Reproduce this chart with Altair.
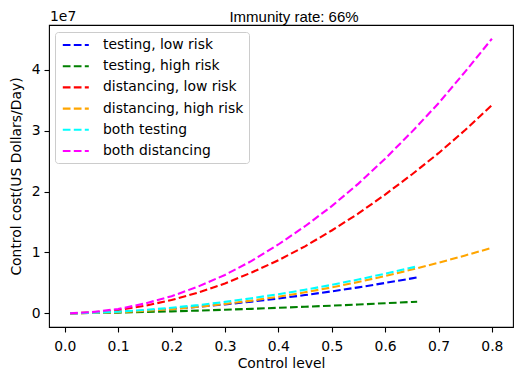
import altair as alt
import pandas as pd

# x grids (control level)
x_testing = [0.01, 0.05, 0.10, 0.15, 0.20, 0.25, 0.30, 0.35, 0.40, 0.45, 0.50, 0.55, 0.60, 0.65, 0.66]
x_distancing = [0.01, 0.05, 0.10, 0.15, 0.20, 0.25, 0.30, 0.35, 0.40, 0.45, 0.50, 0.55, 0.60, 0.65, 0.70, 0.75, 0.80]

# control cost in units of 1e7 US Dollars/Day
testing_low = [0.0004, 0.006, 0.021, 0.043, 0.071, 0.106, 0.146, 0.192, 0.243, 0.299, 0.360, 0.426, 0.498, 0.573, 0.59]
testing_high = [0.0004, 0.004, 0.011, 0.021, 0.032, 0.044, 0.058, 0.073, 0.090, 0.107, 0.125, 0.144, 0.165, 0.186, 0.19]
both_testing = [0.0004, 0.007, 0.026, 0.055, 0.091, 0.134, 0.187, 0.247, 0.313, 0.386, 0.467, 0.555, 0.651, 0.750, 0.77]
distancing_low = [0.0005, 0.0135, 0.054, 0.122, 0.218, 0.34, 0.49, 0.67, 0.87, 1.10, 1.36, 1.64, 1.95, 2.28, 2.63, 3.01, 3.42]
distancing_high = [0.0002, 0.004, 0.017, 0.038, 0.068, 0.106, 0.153, 0.208, 0.272, 0.344, 0.425, 0.514, 0.612, 0.718, 0.83, 0.95, 1.075]
both_distancing = [0.0007, 0.018, 0.07, 0.16, 0.28, 0.44, 0.63, 0.86, 1.13, 1.43, 1.76, 2.13, 2.54, 2.98, 3.45, 3.97, 4.51]

series_names = ["testing, low risk", "testing, high risk", "distancing, low risk",
                "distancing, high risk", "both testing", "both distancing"]
series_colors = ["blue", "green", "red", "orange", "cyan", "magenta"]
x_ticks = [0.0, 0.1, 0.2, 0.3, 0.4, 0.5, 0.6, 0.7, 0.8]
y_ticks = [0, 1, 2, 3, 4]
title_text = "Immunity rate: 66%"
offset_label = "1e7"

rows = []
for name, xs, ys in [
    (series_names[0], x_testing, testing_low),
    (series_names[1], x_testing, testing_high),
    (series_names[2], x_distancing, distancing_low),
    (series_names[3], x_distancing, distancing_high),
    (series_names[4], x_testing, both_testing),
    (series_names[5], x_distancing, both_distancing),
]:
    for xv, yv in zip(xs, ys):
        rows.append({"series": name, "x": xv, "y": yv})
df = pd.DataFrame(rows)

FONT = "DejaVu Sans"
FS = 13.9

lines = alt.Chart(df).mark_line(strokeWidth=2.1, strokeDash=[7.7, 3.3]).encode(
    x=alt.X("x:Q", scale=alt.Scale(domain=[-0.0295, 0.8395], nice=False, zero=False),
            axis=alt.Axis(values=x_ticks, format=".1f", title="Control level",
                          titleY=40, titleBaseline="alphabetic")),
    y=alt.Y("y:Q", scale=alt.Scale(domain=[-0.2255, 4.736], nice=False, zero=False),
            axis=alt.Axis(values=y_ticks, format="d", title="Control cost(US Dollars/Day)",
                          titleX=-33, titleY=151, titleAngle=270, titleBaseline="middle",
                          titleAlign="center", labelPadding=4)),
    color=alt.Color("series:N",
                    scale=alt.Scale(domain=series_names, range=series_colors),
                    sort=series_names,
                    legend=alt.Legend(title=None, orient="none", legendX=6, legendY=7,
                                      symbolType="M-0.8,0H3.2", symbolSize=169,
                                      symbolStrokeWidth=2.1, symbolDash=[7.7, 3.3],
                                      labelFont=FONT, labelFontSize=FS, labelColor="black",
                                      labelOffset=27, rowPadding=6.2, padding=5,
                                      fillColor="rgba(255,255,255,0.8)", strokeColor="#cccccc",
                                      cornerRadius=3)),
    detail="series:N",
)

offset_text = alt.Chart(pd.DataFrame({"t": [offset_label]})).mark_text(
    align="left", baseline="alphabetic", font=FONT, fontSize=FS, color="black"
).encode(x=alt.value(1), y=alt.value(-4), text="t:N")

title_mark = alt.Chart(pd.DataFrame({"t": [title_text]})).mark_text(
    align="center", baseline="alphabetic", font="Liberation Sans",
    fontSize=15, color="black"
).encode(x=alt.value(245), y=alt.value(-3), text="t:N")

chart = alt.layer(lines, offset_text, title_mark).properties(
    width=464, height=302,
    autosize=alt.AutoSizeParams(type="none"),
    padding={"left": 41, "top": 17, "right": 2, "bottom": 45},
    background="white",
).configure_view(stroke="black", strokeWidth=1.1).configure_axis(
    grid=False, domain=False, tickColor="black", tickSize=5, tickWidth=1.1,
    labelFont=FONT, labelFontSize=FS, labelColor="black",
    titleFont=FONT, titleFontSize=FS, titleColor="black", titleFontWeight="normal",
).configure_axisX(labelPadding=7)

chart.save("out.html", embed_options={"renderer": "svg", "actions": False})
